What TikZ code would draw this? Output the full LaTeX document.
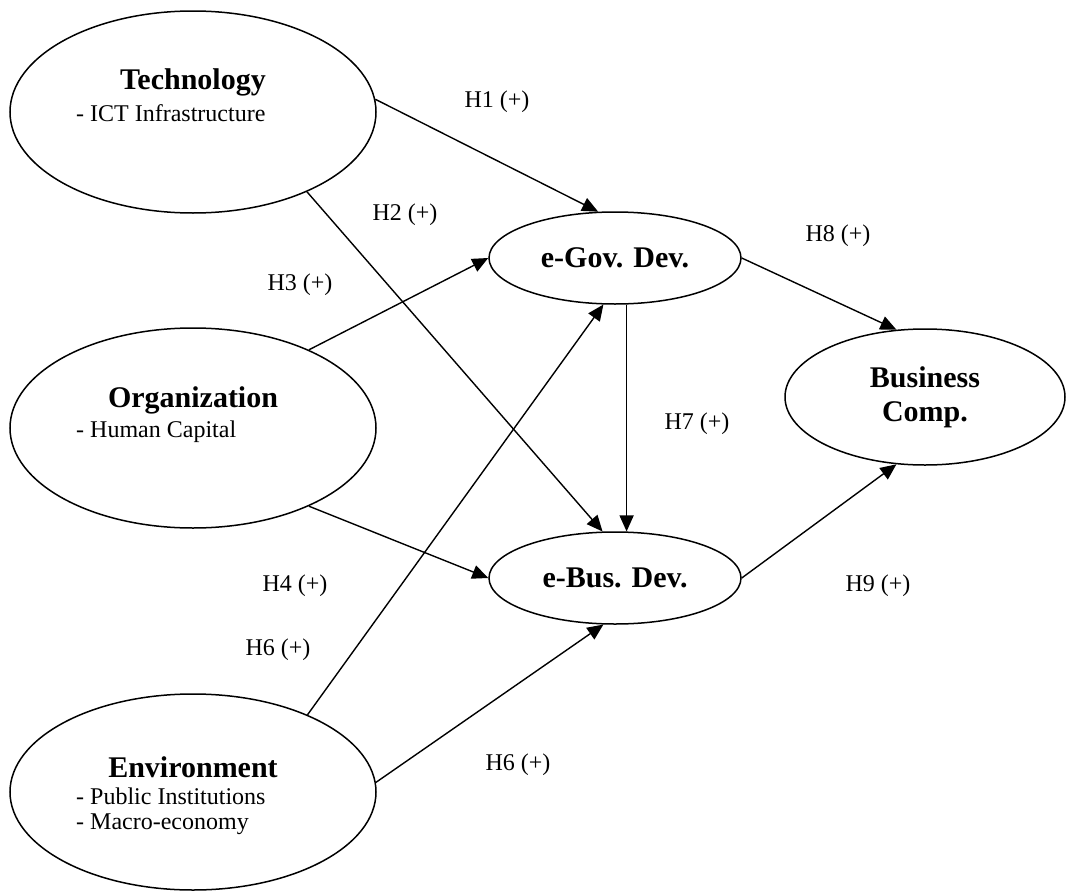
\documentclass[tikz,border=0pt]{standalone}
\usepackage{fontspec}
\setmainfont{Liberation Serif}
\usetikzlibrary{shapes.geometric,arrows.meta}
\begin{document}
\begin{tikzpicture}[x=1pt,y=-1pt,
  big/.style={draw,ellipse,line width=1.5pt,inner sep=0pt,minimum width=366pt,minimum height=202pt},
  mid/.style={draw,ellipse,line width=1.5pt,inner sep=0pt,minimum width=252pt,minimum height=92pt,font=\fontsize{30}{34}\selectfont\bfseries},
  title/.style={font=\fontsize{30}{34}\selectfont\bfseries,inner sep=0pt},
  item/.style={font=\fontsize{24}{29}\selectfont,inner sep=0pt,anchor=west},
  hlab/.style={font=\fontsize{24}{29}\selectfont,inner sep=0pt},
  conn/.style={line width=1.4pt,-{Triangle[length=16pt,width=14pt]}}]
\useasboundingbox (0,0) rectangle (1074,894);
% ellipses
\node[big] (tech) at (193,112) {};
\node[big,minimum height=200pt] (org) at (193,428) {};
\node[big,minimum height=196pt] (env) at (193,792) {};
\node[mid] (egov) at (615,258) {e-Gov. Dev.};
\node[mid] (ebus) at (615,578) {e-Bus. Dev.};
\node[mid,minimum width=280pt,minimum height=136pt,align=center] (bc) at (925,397) {Business\\Comp.};
% texts inside big ellipses
\node[title] (ttech) at (193,82) {Technology};
\node[item] (itech) at (76,113) {- ICT Infrastructure};
\node[title] (torg) at (193,400) {Organization};
\node[item] (iorg) at (76,432) {- Human Capital};
\node[title] (tenv) at (193,767) {Environment};
\node[item] (ienv1) at (76,796) {- Public Institutions};
\node[item] (ienv2) at (76,824) {- Macro-economy};
% connectors
\draw[conn] (tech.4) -- (egov.110);
\draw[conn] (tech.-35) -- (ebus.105);
\draw[conn] (org.34) -- (egov.west);
\draw[conn] (org.-34) -- (ebus.west);
\draw[conn] (env.34) -- (egov.-104);
\draw[conn] (env.3) -- (ebus.-104);
\draw[conn] (egov.-76) -- (ebus.76);
\draw[conn] (egov.east) -- (bc.113);
\draw[conn] (ebus.east) -- (bc.-113);
% labels
\node[hlab] (l1) at (497,102) {H1 (+)};
\node[hlab] (l2) at (405,215) {H2 (+)};
\node[hlab] (l3) at (300,285) {H3 (+)};
\node[hlab] (l4) at (295,586) {H4 (+)};
\node[hlab] (l6a) at (278,650) {H6 (+)};
\node[hlab] (l6b) at (518,765) {H6 (+)};
\node[hlab] (l7) at (697,424) {H7 (+)};
\node[hlab] (l8) at (838,236) {H8 (+)};
\node[hlab] (l9) at (878,586) {H9 (+)};
\end{tikzpicture}
\end{document}
